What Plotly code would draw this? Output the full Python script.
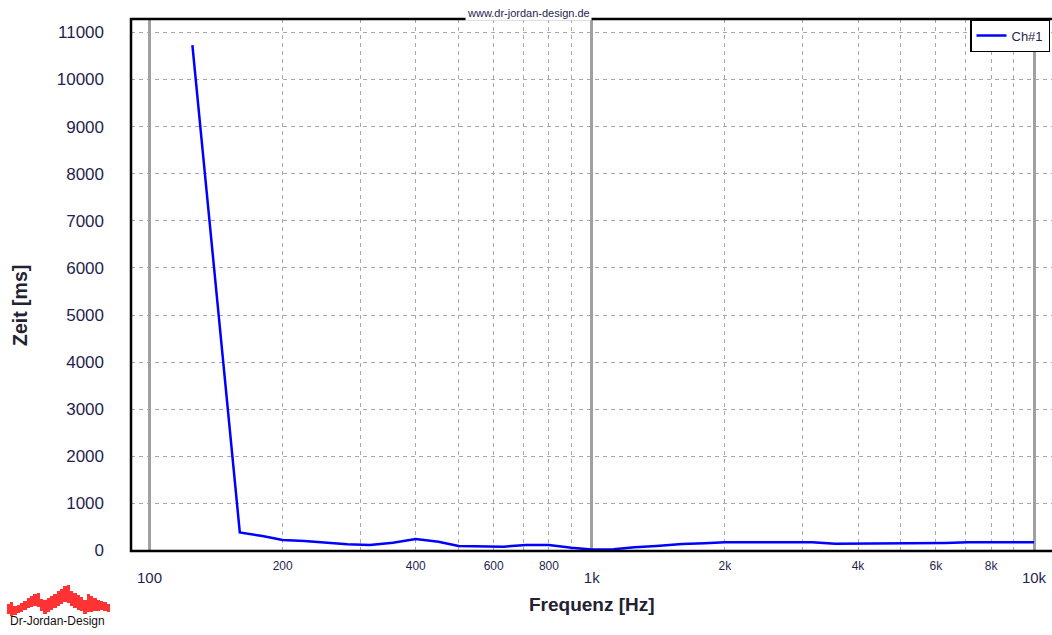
import plotly.graph_objects as go

W, H = 1052, 635
H_EFF = 626  # effective rendered height observed in the viewer

# ---- data ----
freq_hz = [125, 160, 180, 200, 224, 250, 280, 315, 355, 400, 450, 500, 560, 630, 710, 800, 900,
           1000, 1120, 1250, 1400, 1600, 1800, 2000, 2240, 2500, 2800, 3150, 3550, 4000, 4500,
           5000, 5600, 6300, 7100, 8000, 9000, 10000]
zeit_ms = [10730, 385, 308, 223, 202, 166, 132, 117, 166, 244, 187, 96, 81, 81, 117, 117, 59,
           21, 25, 68, 96, 138, 153, 174, 174, 174, 174, 174, 144, 144, 144,
           144, 144, 160, 174, 174, 174, 174]

minor_ticks = [200, 300, 400, 500, 600, 700, 800, 900, 2000, 3000, 4000, 5000, 6000, 7000, 8000, 9000]
minor_text = ["200", "", "400", "", "600", "", "800", "", "2k", "", "4k", "", "6k", "", "8k", ""]
major_ticks = [100, 1000, 10000]
major_text = ["100", "1k", "10k"]
y_ticks = [0, 1000, 2000, 3000, 4000, 5000, 6000, 7000, 8000, 9000, 10000, 11000]
y_text = ["0", "1000", "2000", "3000", "4000", "5000", "6000", "7000", "8000", "9000", "10000", "11000"]

# logo (decorative bar profile)
logo_x = [8.3, 11.7, 15, 18.3, 21.7, 25, 28.3, 31.7, 35, 38.3, 41.7, 45, 48.3, 51.7, 55, 58.3,
          61.7, 65, 68.3, 71.7, 75, 78.3, 81.7, 85, 88.3, 91.7, 95, 98.3, 101.7, 105, 108.3]
logo_top = [15, 17.3, 13.3, 14, 16, 18.3, 20.7, 22.7, 25, 26, 20, 19.3, 21.3, 22.7, 25, 28,
            30, 32.7, 34, 28.3, 26, 24, 21.7, 19.3, 25, 22.7, 20.7, 19.3, 18, 17.3, 15]
logo_bottom = [5, 3.3, 4, 5.7, 7.3, 9, 10.7, 12, 13.3, 11.7, 8.3, 5, 7.3, 9, 10.7, 12.7,
               14.7, 16.7, 16, 13.3, 11.3, 9.3, 8.3, 5, 6.7, 7.3, 8.3, 8.3, 9.3, 8.3, 6.7]

FONT = "Liberation Sans, Arial, sans-serif"
TXT = "#1f1f50"

def px(x):
    return x / W

def py(y):
    return 1 - y / H_EFF

fig = go.Figure()

fig.add_trace(go.Scatter(x=freq_hz, y=zeit_ms, mode="lines", name="Ch#1",
                         line=dict(color="#0000ff", width=2.5), xaxis="x", yaxis="y"))

fig.add_trace(go.Bar(x=logo_x, y=[t - b for t, b in zip(logo_top, logo_bottom)], base=logo_bottom,
                     marker=dict(color="#ff3333", line=dict(width=0)), width=3.3,
                     showlegend=False, xaxis="x3", yaxis="y3", hoverinfo="skip"))

# dummy trace to activate xaxis2
fig.add_trace(go.Scatter(x=[1000], y=[None], xaxis="x2", yaxis="y", showlegend=False,
                         hoverinfo="skip", mode="lines"))

xdom = [px(131), 1.0]
ydom = [py(551), py(19)]
xr = [1.9581, 4.0407]

fig.update_layout(
    width=W, height=H, autosize=False,
    margin=dict(l=0, r=0, t=0, b=0, pad=0),
    paper_bgcolor="white", plot_bgcolor="white",
    font=dict(family=FONT, color=TXT),
    showlegend=True,
    legend=dict(x=px(1050), y=py(19), xref="paper", yref="paper", xanchor="right", yanchor="top",
                bgcolor="white", bordercolor="black", borderwidth=1.5,
                font=dict(size=13, color=TXT), itemwidth=30, tracegroupgap=0),
    xaxis=dict(type="log", domain=xdom, range=xr, anchor="y",
               tickmode="array", tickvals=minor_ticks, ticktext=minor_text,
               tickfont=dict(size=12, color=TXT), ticks="", ticklabelstandoff=6,
               showgrid=True, gridcolor="#a8a8a8", gridwidth=1, griddash="4px,4px",
               showline=False, zeroline=False),
    xaxis2=dict(type="log", domain=xdom, range=xr, overlaying="x", anchor="y", side="bottom",
                tickmode="array", tickvals=major_ticks, ticktext=major_text,
                tickfont=dict(size=15, color=TXT), ticks="", ticklabelstandoff=16,
                showgrid=True, gridcolor="#a0a0a0", gridwidth=3,
                showline=False, zeroline=False),
    yaxis=dict(domain=ydom, range=[-10.6, 11285], anchor="x",
               tickmode="array", tickvals=y_ticks, ticktext=y_text,
               tickfont=dict(size=17, color=TXT), ticks="", ticklabelstandoff=26,
               showgrid=True, gridcolor="#a8a8a8", gridwidth=1, griddash="4px,4px",
               showline=False, zeroline=False),
    xaxis3=dict(domain=[0, px(115)], range=[0, 115], visible=False, fixedrange=True, anchor="y3"),
    yaxis3=dict(domain=[py(619), py(579)], range=[0, 40], visible=False, fixedrange=True, anchor="x3"),
    bargap=0,
)

# frame
fig.add_shape(type="rect", xref="paper", yref="paper", x0=xdom[0], x1=xdom[1] + 0.002,
              y0=ydom[0], y1=ydom[1], line=dict(color="black", width=2.5), layer="above")

fig.add_annotation(x=px(528), y=py(13), xref="paper", yref="paper", text="www.dr-jordan-design.de",
                   showarrow=False, font=dict(size=11, color=TXT), bgcolor="white",
                   xanchor="center", yanchor="middle", borderpad=1)
fig.add_annotation(x=px(592), y=py(604), xref="paper", yref="paper", text="<b>Frequenz [Hz]</b>",
                   showarrow=False, font=dict(size=19, color="#222233"),
                   xanchor="center", yanchor="middle")
fig.add_annotation(x=px(20), y=py(306), xref="paper", yref="paper", text="<b>Zeit [ms]</b>",
                   showarrow=False, font=dict(size=19.5, color="#222233"), textangle=-90,
                   xanchor="center", yanchor="middle")
fig.add_annotation(x=px(57), y=py(624), xref="paper", yref="paper", text="Dr-Jordan-Design",
                   showarrow=False, font=dict(size=12, color="#111111"),
                   xanchor="center", yanchor="bottom", yshift=-6)

post = (
    "document.body.style.margin='0';document.body.style.padding='0';"
    "document.body.style.overflow='hidden';"
)

fig.write_html("out.html",
               config={"displayModeBar": False, "responsive": False},
               post_script=post)
